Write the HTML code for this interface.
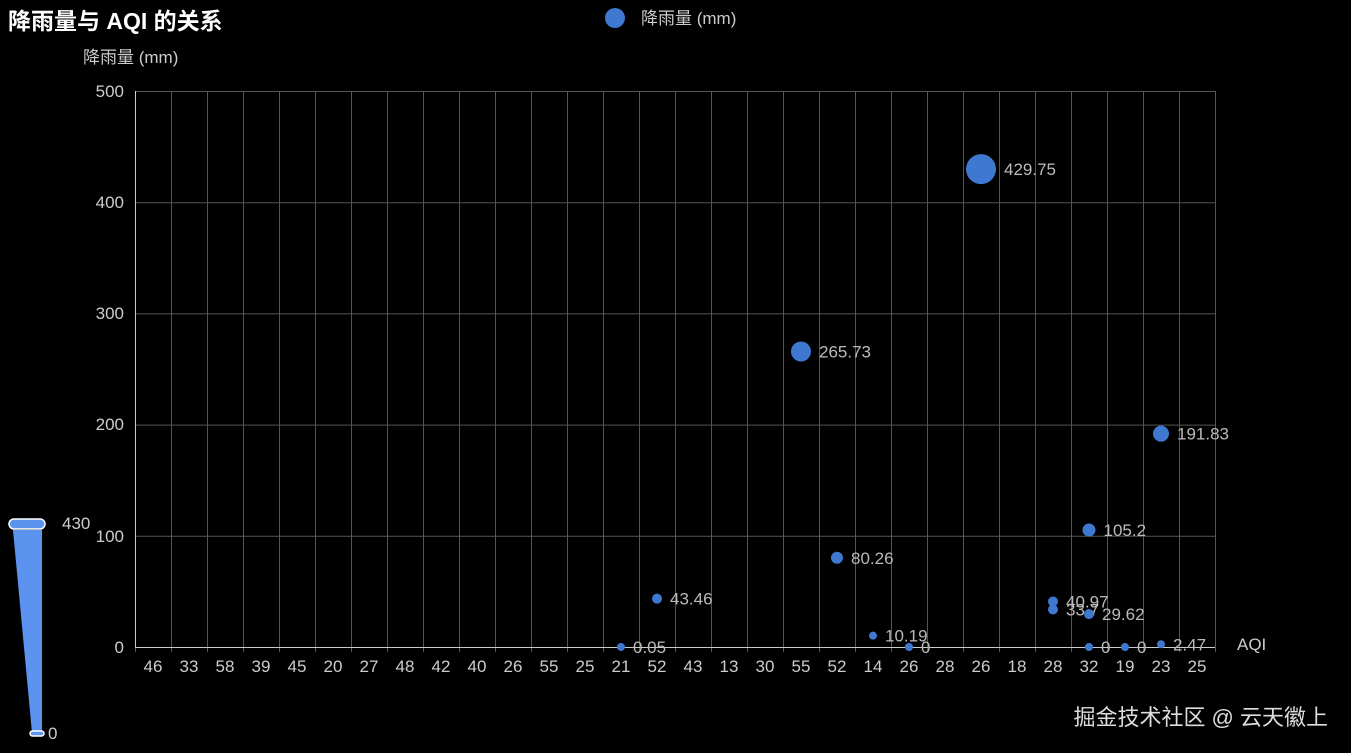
<!DOCTYPE html>
<html><head><meta charset="utf-8"><style>
html,body{margin:0;padding:0;background:#000;}
svg{display:block;font-family:"Liberation Sans","Noto Sans CJK SC",sans-serif;}
</style></head><body>
<svg width="1351" height="753" viewBox="0 0 1351 753">
<rect width="1351" height="753" fill="#000"/>
<text x="8" y="29" fill="#fff" font-size="23" font-weight="bold">降雨量与 AQI 的关系</text>
<circle cx="615" cy="18" r="10" fill="#3f78d0"/>
<text x="641" y="24" fill="#ccc" font-size="17">降雨量 (mm)</text>
<text x="83" y="63" fill="#ccc" font-size="17">降雨量 (mm)</text>
<g stroke="#555" stroke-width="1" fill="none">
<path d="M135 91.5H1215M135 202.7H1215M135 313.9H1215M135 425.1H1215M135 536.3H1215"/>
</g>
<g id="vg" stroke="#555" stroke-width="1"></g>
<line x1="135.5" y1="91" x2="135.5" y2="647" stroke="#ccc"/>
<line x1="135" y1="647.5" x2="1215" y2="647.5" stroke="#ccc"/>
<g fill="#ccc" font-size="17" text-anchor="end">
<text x="124" y="97">500</text><text x="124" y="208">400</text><text x="124" y="319">300</text><text x="124" y="430">200</text><text x="124" y="542">100</text><text x="124" y="653">0</text>
</g>
<g id="xl" fill="#ccc" font-size="17" text-anchor="middle"></g>
<text x="1237" y="650" fill="#ccc" font-size="17">AQI</text>
<g id="pts"></g>
<polygon points="13,530 42,530 42,733 32,733" fill="#5b93ef"/>
<rect x="9" y="519" width="36" height="10" rx="5" fill="#5b93ef" stroke="#fff" stroke-width="1.5"/>
<rect x="30" y="731" width="14" height="5" rx="2.5" fill="#5b93ef" stroke="#fff" stroke-width="1.5"/>
<text x="62" y="529" fill="#ccc" font-size="17">430</text>
<text x="48" y="739" fill="#ccc" font-size="17">0</text>
<text x="1328" y="725" fill="#ddd" font-size="22" text-anchor="end">掘金技术社区 @ 云天徽上</text>
<script>
var cats=[46,33,58,39,45,20,27,48,42,40,26,55,25,21,52,43,13,30,55,52,14,26,28,26,18,28,32,19,23,25];
var vg=document.getElementById('vg'),xl=document.getElementById('xl'),ns='http://www.w3.org/2000/svg';
for(var i=0;i<=30;i++){var x=135+i*36+0.5;var l=document.createElementNS(ns,'line');l.setAttribute('x1',x);l.setAttribute('x2',x);l.setAttribute('y1',91);l.setAttribute('y2',652);vg.appendChild(l);}
cats.forEach(function(c,i){var t=document.createElementNS(ns,'text');t.setAttribute('x',153+i*36);t.setAttribute('y',672);t.textContent=c;xl.appendChild(t);});
var pts=[[13,0.05,4],[14,43.46,5],[18,265.73,10],[19,80.26,6],[20,10.19,4],[21,0,4],[23,429.75,15],[25,40.97,5],[25,33.7,5],[26,29.62,5],[26,105.2,6.5],[26,0,4],[27,0,4],[28,191.83,8],[28,2.47,4]];
var pg=document.getElementById('pts');
pts.forEach(function(p){var cx=153+p[0]*36,cy=647-p[1]*1.112;var c=document.createElementNS(ns,'circle');c.setAttribute('cx',cx);c.setAttribute('cy',cy);c.setAttribute('r',p[2]);c.setAttribute('fill','#3f78d0');pg.appendChild(c);
var t=document.createElementNS(ns,'text');t.setAttribute('x',cx+p[2]+8);t.setAttribute('y',cy+6);t.setAttribute('fill','#bbb');t.setAttribute('font-size','17');t.textContent=p[1];pg.appendChild(t);});
</script>
</svg>
</body></html>
